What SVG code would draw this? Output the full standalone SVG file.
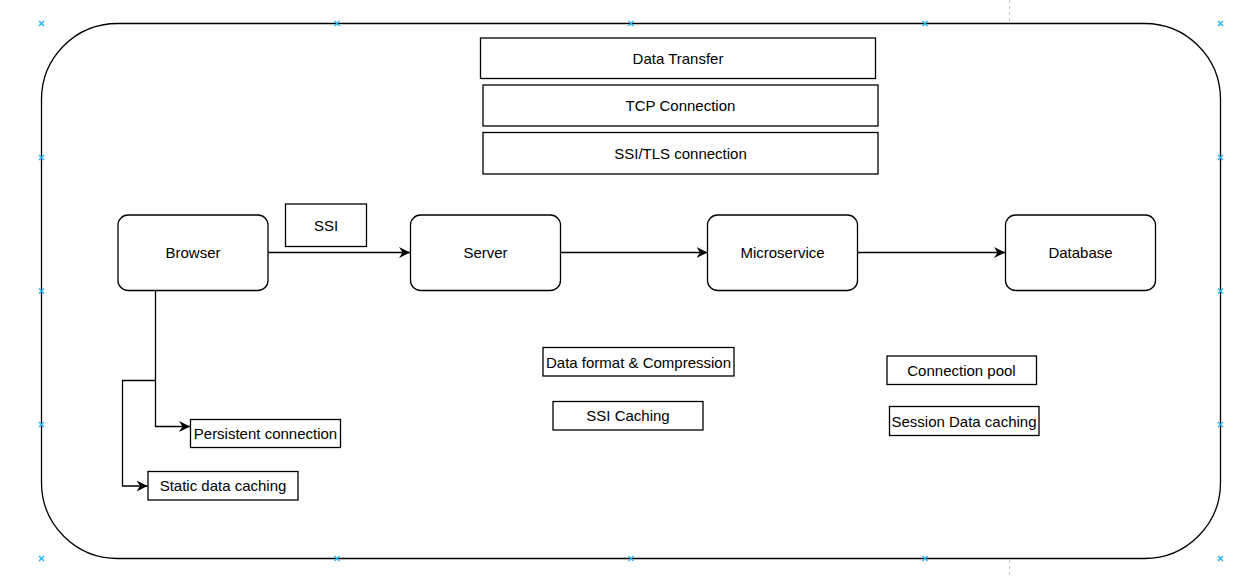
<svg xmlns="http://www.w3.org/2000/svg" width="1247" height="578" viewBox="0 0 1247 578">
<style>
text{font-family:"Liberation Sans",Arial,sans-serif;font-size:15px;fill:#000;text-anchor:middle;dominant-baseline:central}
.box{fill:#fff;stroke:#000;stroke-width:1.3}
.rbox{fill:#fff;stroke:#000;stroke-width:1.3}
.edge{fill:none;stroke:#000;stroke-width:1.3}
.mk{stroke:#29b6f2;stroke-width:1.5;fill:none}
.guide{stroke:#c8c8c8;stroke-width:1;stroke-dasharray:3 3}
</style>
<defs>
<marker id="arr" viewBox="0 0 11 12" refX="11" refY="6" markerWidth="11" markerHeight="12" markerUnits="userSpaceOnUse" orient="auto">
<path d="M0,0.5 L11,6 L0,11.5 L3.5,6 Z" fill="#000"/>
</marker>
<path id="x" d="M-2.5,-2.5 L2.5,2.5 M-2.5,2.5 L2.5,-2.5"/>
</defs>
<rect width="1247" height="578" fill="#fff"/>
<line class="guide" x1="1009.5" y1="0" x2="1009.5" y2="21"/>
<line class="guide" x1="1009.5" y1="560" x2="1009.5" y2="578"/>
<g id="container"><rect x="41.5" y="23.5" width="1179" height="535" rx="76" ry="76" fill="none" stroke="#000" stroke-width="1.3"/></g>
<g id="markers" class="mk">
<use href="#x" x="41.5" y="23.5"/><use href="#x" x="337" y="23.5"/><use href="#x" x="631" y="23.5"/><use href="#x" x="925" y="23.5"/><use href="#x" x="1220.5" y="23.5"/>
<use href="#x" x="41.5" y="558.5"/><use href="#x" x="337" y="558.5"/><use href="#x" x="631" y="558.5"/><use href="#x" x="925" y="558.5"/><use href="#x" x="1220.5" y="558.5"/>
<use href="#x" x="41.5" y="157.5"/><use href="#x" x="41.5" y="291"/><use href="#x" x="41.5" y="424.5"/>
<use href="#x" x="1220.5" y="157.5"/><use href="#x" x="1220.5" y="291"/><use href="#x" x="1220.5" y="424.5"/>
</g>
<g id="connectors">
<path class="edge" d="M268.5,252.5 H410" marker-end="url(#arr)"/>
<path class="edge" d="M560.5,252.5 H707.5" marker-end="url(#arr)"/>
<path class="edge" d="M857.5,252.5 H1005" marker-end="url(#arr)"/>
<path class="edge" d="M155.5,290.5 V426.5 H190" marker-end="url(#arr)"/>
<path class="edge" d="M155.5,380.5 H122.5 V486 H147.5" marker-end="url(#arr)"/>
</g>
<g id="data-transfer"><rect class="box" x="480.5" y="38" width="395" height="40.5"/><text x="678" y="58.5">Data Transfer</text></g>
<g id="tcp-connection"><rect class="box" x="483" y="85" width="395" height="41"/><text x="680.5" y="105.5">TCP Connection</text></g>
<g id="ssl-tls"><rect class="box" x="483" y="132.5" width="395" height="41.5"/><text x="680.5" y="153.5">SSI/TLS connection</text></g>
<g id="browser"><rect class="rbox" x="118" y="215" width="150" height="75.5" rx="10"/><text x="193" y="252.5">Browser</text></g>
<g id="ssi-label"><rect class="box" x="285.5" y="204" width="81" height="42.5"/><text x="326" y="225">SSI</text></g>
<g id="server"><rect class="rbox" x="410.5" y="215" width="150" height="75.5" rx="10"/><text x="485.5" y="252.5">Server</text></g>
<g id="microservice"><rect class="rbox" x="707.5" y="215" width="150" height="75.5" rx="10"/><text x="782.5" y="252.5">Microservice</text></g>
<g id="database"><rect class="rbox" x="1005.5" y="215" width="150" height="75.5" rx="10"/><text x="1080.5" y="252.5">Database</text></g>
<g id="data-format"><rect class="box" x="543" y="347.5" width="191" height="28.5"/><text x="638.5" y="362">Data format &amp; Compression</text></g>
<g id="ssi-caching"><rect class="box" x="553" y="401.5" width="150" height="28.5"/><text x="628" y="415.5">SSI Caching</text></g>
<g id="connection-pool"><rect class="box" x="887" y="356" width="149.5" height="28.5"/><text x="961.5" y="370.5">Connection pool</text></g>
<g id="session-caching"><rect class="box" x="889.5" y="406.5" width="149.5" height="29"/><text x="964" y="421">Session Data caching</text></g>
<g id="persistent-connection"><rect class="box" x="190.5" y="419.5" width="150" height="28"/><text x="265.5" y="433.5">Persistent connection</text></g>
<g id="static-caching"><rect class="box" x="148" y="471.5" width="150" height="28.5"/><text x="223" y="485.5">Static data caching</text></g>
</svg>
